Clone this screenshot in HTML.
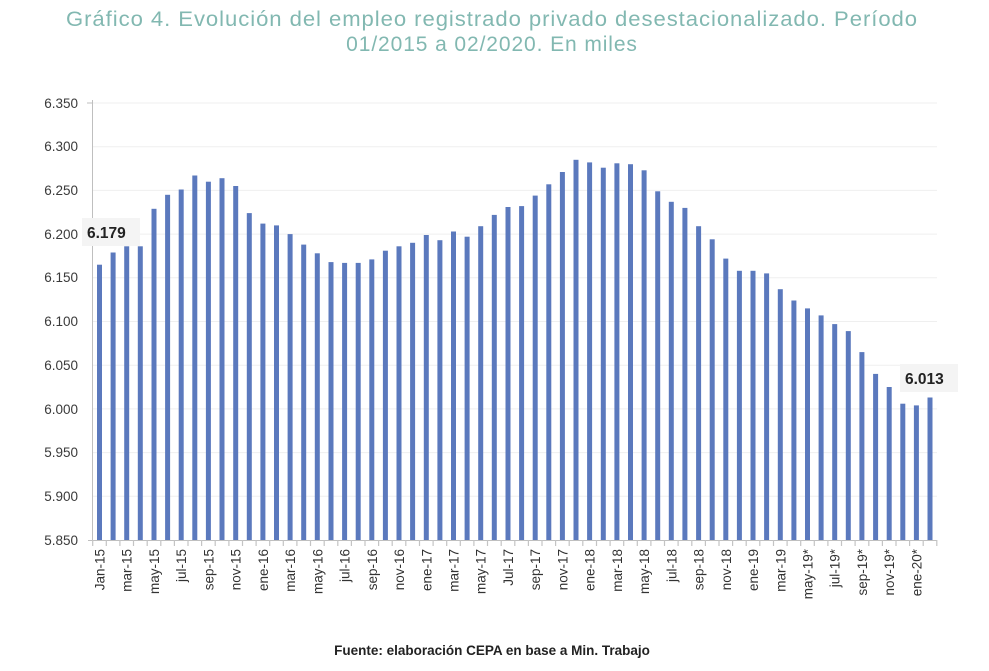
<!DOCTYPE html>
<html><head><meta charset="utf-8"><style>
body{margin:0;background:#fff;width:989px;height:671px;overflow:hidden}
svg{display:block}
</style></head><body>
<svg width="989" height="671" viewBox="0 0 989 671" xmlns="http://www.w3.org/2000/svg" font-family="Liberation Sans, sans-serif">
<text x="492" y="26" text-anchor="middle" font-size="21" fill="#82b8b1" letter-spacing="0.9" textLength="852" lengthAdjust="spacingAndGlyphs">Gráfico 4. Evolución del empleo registrado privado desestacionalizado. Período</text>
<text x="492" y="51" text-anchor="middle" font-size="21" fill="#82b8b1" letter-spacing="0.9">01/2015 a 02/2020. En miles</text>
<g stroke="#efefef" stroke-width="1">
<line x1="93" y1="496.3" x2="937" y2="496.3"/><line x1="93" y1="452.6" x2="937" y2="452.6"/><line x1="93" y1="408.9" x2="937" y2="408.9"/><line x1="93" y1="365.2" x2="937" y2="365.2"/><line x1="93" y1="321.5" x2="937" y2="321.5"/><line x1="93" y1="277.8" x2="937" y2="277.8"/><line x1="93" y1="234.1" x2="937" y2="234.1"/><line x1="93" y1="190.4" x2="937" y2="190.4"/><line x1="93" y1="146.7" x2="937" y2="146.7"/><line x1="93" y1="103" x2="937" y2="103"/>
</g>
<g font-size="13.5" fill="#3a3a3a" text-anchor="end">
<text x="78" y="545">5.850</text><text x="78" y="501">5.900</text><text x="78" y="457">5.950</text><text x="78" y="414">6.000</text><text x="78" y="370">6.050</text><text x="78" y="326">6.100</text><text x="78" y="282">6.150</text><text x="78" y="239">6.200</text><text x="78" y="195">6.250</text><text x="78" y="151">6.300</text><text x="78" y="108">6.350</text>
</g>
<g fill="#5b79bd">
<rect x="97.0" y="264.7" width="5" height="275.3"/><rect x="110.6" y="252.5" width="5" height="287.5"/><rect x="124.2" y="246.3" width="5" height="293.7"/><rect x="137.8" y="246.3" width="5" height="293.7"/><rect x="151.5" y="208.8" width="5" height="331.2"/><rect x="165.1" y="194.8" width="5" height="345.2"/><rect x="178.7" y="189.5" width="5" height="350.5"/><rect x="192.3" y="175.5" width="5" height="364.5"/><rect x="205.9" y="181.7" width="5" height="358.3"/><rect x="219.5" y="178.2" width="5" height="361.8"/><rect x="233.2" y="186.0" width="5" height="354.0"/><rect x="246.8" y="213.1" width="5" height="326.9"/><rect x="260.4" y="223.6" width="5" height="316.4"/><rect x="274.0" y="225.4" width="5" height="314.6"/><rect x="287.6" y="234.1" width="5" height="305.9"/><rect x="301.2" y="244.6" width="5" height="295.4"/><rect x="314.8" y="253.3" width="5" height="286.7"/><rect x="328.5" y="262.1" width="5" height="277.9"/><rect x="342.1" y="262.9" width="5" height="277.1"/><rect x="355.7" y="262.9" width="5" height="277.1"/><rect x="369.3" y="259.4" width="5" height="280.6"/><rect x="382.9" y="250.7" width="5" height="289.3"/><rect x="396.5" y="246.3" width="5" height="293.7"/><rect x="410.1" y="242.8" width="5" height="297.2"/><rect x="423.8" y="235.0" width="5" height="305.0"/><rect x="437.4" y="240.2" width="5" height="299.8"/><rect x="451.0" y="231.5" width="5" height="308.5"/><rect x="464.6" y="236.7" width="5" height="303.3"/><rect x="478.2" y="226.2" width="5" height="313.8"/><rect x="491.8" y="214.9" width="5" height="325.1"/><rect x="505.5" y="207.0" width="5" height="333.0"/><rect x="519.1" y="206.1" width="5" height="333.9"/><rect x="532.7" y="195.6" width="5" height="344.4"/><rect x="546.3" y="184.3" width="5" height="355.7"/><rect x="559.9" y="172.0" width="5" height="368.0"/><rect x="573.5" y="159.8" width="5" height="380.2"/><rect x="587.1" y="162.4" width="5" height="377.6"/><rect x="600.8" y="167.7" width="5" height="372.3"/><rect x="614.4" y="163.3" width="5" height="376.7"/><rect x="628.0" y="164.2" width="5" height="375.8"/><rect x="641.6" y="170.3" width="5" height="369.7"/><rect x="655.2" y="191.3" width="5" height="348.7"/><rect x="668.8" y="201.8" width="5" height="338.2"/><rect x="682.4" y="207.9" width="5" height="332.1"/><rect x="696.1" y="226.2" width="5" height="313.8"/><rect x="709.7" y="239.3" width="5" height="300.7"/><rect x="723.3" y="258.6" width="5" height="281.4"/><rect x="736.9" y="270.8" width="5" height="269.2"/><rect x="750.5" y="270.8" width="5" height="269.2"/><rect x="764.1" y="273.4" width="5" height="266.6"/><rect x="777.8" y="289.2" width="5" height="250.8"/><rect x="791.4" y="300.5" width="5" height="239.5"/><rect x="805.0" y="308.4" width="5" height="231.6"/><rect x="818.6" y="315.4" width="5" height="224.6"/><rect x="832.2" y="324.1" width="5" height="215.9"/><rect x="845.8" y="331.1" width="5" height="208.9"/><rect x="859.4" y="352.1" width="5" height="187.9"/><rect x="873.1" y="373.9" width="5" height="166.1"/><rect x="886.7" y="387.0" width="5" height="153.0"/><rect x="900.3" y="403.7" width="5" height="136.3"/><rect x="913.9" y="405.4" width="5" height="134.6"/><rect x="927.5" y="397.5" width="5" height="142.5"/>
</g>
<g stroke="#bfbfbf" stroke-width="1">
<line x1="92.5" y1="100" x2="92.5" y2="540"/><line x1="87" y1="103" x2="92.5" y2="103"/>
<line x1="88" y1="540.5" x2="937" y2="540.5"/>
</g>
<g stroke="#c4c4c4" stroke-width="1.2">
<path d="M92.7 540v6M106.3 540v6M119.9 540v6M133.5 540v6M147.2 540v6M160.8 540v6M174.4 540v6M188 540v6M201.6 540v6M215.2 540v6M228.9 540v6M242.5 540v6M256.1 540v6M269.7 540v6M283.3 540v6M296.9 540v6M310.5 540v6M324.2 540v6M337.8 540v6M351.4 540v6M365 540v6M378.6 540v6M392.2 540v6M405.8 540v6M419.5 540v6M433.1 540v6M446.7 540v6M460.3 540v6M473.9 540v6M487.5 540v6M501.2 540v6M514.8 540v6M528.4 540v6M542 540v6M555.6 540v6M569.2 540v6M582.8 540v6M596.5 540v6M610.1 540v6M623.7 540v6M637.3 540v6M650.9 540v6M664.5 540v6M678.1 540v6M691.8 540v6M705.4 540v6M719 540v6M732.6 540v6M746.2 540v6M759.8 540v6M773.5 540v6M787.1 540v6M800.7 540v6M814.3 540v6M827.9 540v6M841.5 540v6M855.1 540v6M868.8 540v6M882.4 540v6M896 540v6M909.6 540v6M923.2 540v6M936.8 540v6"/>
</g>
<g font-size="13.5" fill="#333" text-anchor="end">
<text transform="translate(104.5,549) rotate(-90)">Jan-15</text>
<text transform="translate(131.7,549) rotate(-90)">mar-15</text>
<text transform="translate(159,549) rotate(-90)">may-15</text>
<text transform="translate(186.2,549) rotate(-90)">jul-15</text>
<text transform="translate(213.4,549) rotate(-90)">sep-15</text>
<text transform="translate(240.7,549) rotate(-90)">nov-15</text>
<text transform="translate(267.9,549) rotate(-90)">ene-16</text>
<text transform="translate(295.1,549) rotate(-90)">mar-16</text>
<text transform="translate(322.3,549) rotate(-90)">may-16</text>
<text transform="translate(349.6,549) rotate(-90)">jul-16</text>
<text transform="translate(376.8,549) rotate(-90)">sep-16</text>
<text transform="translate(404,549) rotate(-90)">nov-16</text>
<text transform="translate(431.3,549) rotate(-90)">ene-17</text>
<text transform="translate(458.5,549) rotate(-90)">mar-17</text>
<text transform="translate(485.7,549) rotate(-90)">may-17</text>
<text transform="translate(513,549) rotate(-90)">Jul-17</text>
<text transform="translate(540.2,549) rotate(-90)">sep-17</text>
<text transform="translate(567.4,549) rotate(-90)">nov-17</text>
<text transform="translate(594.6,549) rotate(-90)">ene-18</text>
<text transform="translate(621.9,549) rotate(-90)">mar-18</text>
<text transform="translate(649.1,549) rotate(-90)">may-18</text>
<text transform="translate(676.3,549) rotate(-90)">jul-18</text>
<text transform="translate(703.6,549) rotate(-90)">sep-18</text>
<text transform="translate(730.8,549) rotate(-90)">nov-18</text>
<text transform="translate(758,549) rotate(-90)">ene-19</text>
<text transform="translate(785.3,549) rotate(-90)">mar-19</text>
<text transform="translate(812.5,549) rotate(-90)">may-19*</text>
<text transform="translate(839.7,549) rotate(-90)">jul-19*</text>
<text transform="translate(866.9,549) rotate(-90)">sep-19*</text>
<text transform="translate(894.2,549) rotate(-90)">nov-19*</text>
<text transform="translate(921.4,549) rotate(-90)">ene-20*</text>
</g>
<rect x="82" y="218" width="58" height="28" fill="#f4f4f4"/>
<text x="87" y="238" font-size="15.5" font-weight="bold" fill="#222">6.179</text>
<rect x="900" y="364" width="58" height="28" fill="#f4f4f4"/>
<text x="905" y="384" font-size="15.5" font-weight="bold" fill="#222">6.013</text>
<text x="492" y="655" text-anchor="middle" font-size="13.5" font-weight="bold" fill="#222">Fuente: elaboración CEPA en base a Min. Trabajo</text>
</svg>
</body></html>
